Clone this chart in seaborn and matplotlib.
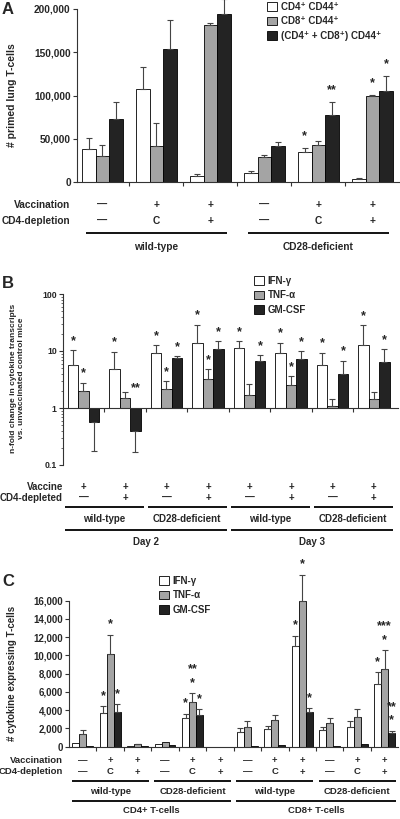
import numpy as np
import pandas as pd
import matplotlib
matplotlib.use("Agg")
import matplotlib.pyplot as plt
import matplotlib.transforms as mtransforms
import seaborn as sns

W, H = 400, 819

# --- Panel A: primed lung T-cells ---
A_VACC = ["—", "+", "+", "—", "+", "+"]
A_DEPL = ["—", "C", "+", "—", "C", "+"]
A_STRAINS = ["wild-type", "CD28-deficient"]
A_SERIES = ["CD4⁺ CD44⁺", "CD8⁺ CD44⁺", "(CD4⁺ + CD8⁺) CD44⁺"]
A_CD4 = [38500, 107300, 7300, 11200, 34600, 3800]
A_CD4_HI = [50800, 133500, 10000, 12700, 39600, 4600]
A_CD8 = [30400, 41900, 181500, 29200, 43000, 99600]
A_CD8_HI = [42700, 68000, 184000, 31500, 47700, 100400]
A_TOT = [72700, 153500, 193800, 41900, 77700, 105000]
A_TOT_HI = [92700, 187000, 212000, 46900, 93000, 122700]
A_CD4_STARS = ["", "", "", "", "*", ""]
A_CD8_STARS = ["", "", "", "", "", "*"]
A_TOT_STARS = ["", "", "", "", "**", "*"]

# --- Panel B: n-fold change in cytokine transcripts ---
B_VACC = ["+"] * 8
B_DEPL = ["—", "+"] * 4
B_STRAINS = ["wild-type", "CD28-deficient"] * 2
B_DAYS = ["Day 2", "Day 3"]
B_SERIES = ["IFN-γ", "TNF-α", "GM-CSF"]
B_IFN = [5.7, 4.8, 9.1, 14.0, 11.4, 9.1, 5.7, 12.6]
B_IFN_HI = [10.3, 9.8, 12.6, 29.0, 14.9, 14.0, 9.35, 28.4]
B_TNF = [2.0, 1.5, 2.14, 3.25, 1.66, 2.55, 1.07, 1.45]
B_TNF_HI = [2.8, 1.92, 3.0, 4.85, 2.6, 3.66, 1.44, 1.9]
B_GM = [0.56, 0.39, 7.6, 10.8, 6.7, 7.35, 3.9, 6.5]
B_GM_HI = [0.177, 0.17, 8.2, 14.9, 8.4, 10.0, 6.8, 10.7]
B_IFN_STARS = ["*"] * 8
B_TNF_STARS = ["*", "", "*", "*", "", "*", "", ""]
B_GM_STARS = ["", "**", "*", "*", "*", "*", "*", "*"]

# --- Panel C: cytokine expressing T-cells ---
C_VACC = ["—", "+", "+"] * 4
C_DEPL = ["—", "C", "+"] * 4
C_STRAINS = ["wild-type", "CD28-deficient"] * 2
C_CELLS = ["CD4+ T-cells", "CD8+ T-cells"]
C_IFN = [365, 3690, 30, 255, 3100, 20, 1570, 1900, 10990, 1790, 2120, 6830]
C_IFN_HI = [365, 4420, 30, 255, 3580, 20, 2010, 2230, 12150, 2190, 2810, 8140]
C_TNF = [1350, 10150, 290, 510, 4890, 20, 2150, 2920, 15950, 2555, 3285, 8500]
C_TNF_HI = [1790, 12260, 330, 510, 5840, 20, 2770, 3430, 18870, 3175, 4090, 10550]
C_GM = [120, 3800, 70, 220, 3470, 20, 110, 180, 3760, 110, 255, 1460]
C_GM_HI = [120, 4640, 70, 220, 4120, 20, 110, 180, 4200, 110, 255, 1715]
C_IFN_STARS = ["", "*", "", "", "*", "", "", "", "*", "", "", "*"]
C_TNF_STARS = ["", "*", "", "", "*\n**", "", "", "", "*", "", "", "*\n***"]
C_GM_STARS = ["", "*", "", "", "*", "", "", "", "*", "", "", "*\n**"]

COLORS = ["white", "#a4a4a4", "#232323"]
FONT = ["Liberation Sans", "DejaVu Sans"]

sns.set_style("white")
plt.rcParams["font.family"] = FONT
plt.rcParams["font.weight"] = "bold"
plt.rcParams["axes.linewidth"] = 0.8

fig = plt.figure(figsize=(W / 100, H / 100), dpi=100)


def fy(py):
    return 1 - py / H


def add_panel(left, top, right, bottom):
    return fig.add_axes([left / W, 1 - bottom / H, (right - left) / W, (bottom - top) / H])


def draw_bars(ax, series, values, his, stars, star_pts):
    n = len(values[0])
    df = pd.DataFrame({
        "group": np.tile(np.arange(n), len(series)),
        "series": np.repeat(series, n),
        "value": np.concatenate(values),
    })
    sns.barplot(data=df, x="group", y="value", hue="series", hue_order=series,
                palette=COLORS, saturation=1, width=0.76, errorbar=None,
                edgecolor="black", linewidth=0.6, ax=ax)
    for cont, vals, hi, st in zip(ax.containers, values, his, stars):
        xs = np.array([b.get_x() + b.get_width() / 2 for b in cont])
        vals = np.asarray(vals, float)
        hi = np.asarray(hi, float)
        up = np.clip(hi - vals, 0, None)
        dn = np.clip(vals - hi, 0, None)
        show = (up + dn) > 0
        ax.errorbar(xs[show], vals[show], yerr=[dn[show], up[show]], fmt="none",
                    ecolor="#444444", elinewidth=0.8, capsize=2.2, capthick=0.8,
                    clip_on=False, zorder=1)
        for x, v, h, s in zip(xs, vals, hi, st):
            if not s:
                continue
            # stars above the error bar; for bars below the baseline, above the baseline
            base, off = (max(v, h), star_pts) if v >= 0 else (0, star_pts * 2.2)
            for k, part in enumerate(s.split("\n")):
                ax.annotate(part, (x, base), xytext=(0, off + k * 10), textcoords="offset points",
                            ha="center", va="center", fontsize=9, annotation_clip=False)


def style_axes(ax, n, xlim):
    ax.set_xlim(*xlim)
    ax.set_xticks(np.arange(n - 1) + 0.5)
    ax.set_xticklabels([])
    ax.tick_params(axis="x", bottom=True, direction="out", length=3, width=0.8, color="#333333")
    ax.tick_params(axis="y", left=True, direction="out", length=3, width=0.8, color="#333333", pad=1.5)
    for s in ["top", "right"]:
        ax.spines[s].set_visible(False)
    for s in ["left", "bottom"]:
        ax.spines[s].set_color("#333333")
    ax.set_xlabel("")
    ax.set_ylabel("")
    ax.get_legend().remove()


def legend(ax, left_px, top_px, fs=7):
    handles, labels = ax.get_legend_handles_labels()
    fig.legend(handles, labels, loc="upper left", bbox_to_anchor=(left_px / W, fy(top_px)),
               frameon=False, fontsize=fs, handlelength=1.0, handleheight=1.0,
               handletextpad=0.4, labelspacing=0.45, borderaxespad=0, borderpad=0)


def row_labels(ax, rows, names, pys, right_px, fs):
    tr = mtransforms.blended_transform_factory(ax.transData, fig.transFigure)
    for vals, name, py in zip(rows, names, pys):
        fig.text(right_px / W, fy(py), name, ha="right", va="center", fontsize=fs)
        for i, v in enumerate(vals):
            ax.text(i, fy(py), v, transform=tr, ha="center", va="center", fontsize=fs)


def brackets(ax, names, size, pad, py_line, py_text, fs):
    tr = mtransforms.blended_transform_factory(ax.transData, fig.transFigure)
    for k, name in enumerate(names):
        x0, x1 = k * size - pad, (k + 1) * size - 1 + pad
        ax.plot([x0, x1], [fy(py_line)] * 2, transform=tr, color="black", lw=1.3,
                clip_on=False, solid_capstyle="butt")
        ax.text((x0 + x1) / 2, fy(py_text), name, transform=tr, ha="center", va="center", fontsize=fs)


# ---------------- Panel A ----------------
axA = add_panel(77, 9, 400, 182.3)
draw_bars(axA, A_SERIES, [A_CD4, A_CD8, A_TOT], [A_CD4_HI, A_CD8_HI, A_TOT_HI],
          [A_CD4_STARS, A_CD8_STARS, A_TOT_STARS], 8.5)
legend(axA, 267, 2, fs=7)
style_axes(axA, 6, (-0.47, 5.51))
axA.set_ylim(0, 200000)
axA.set_yticks(np.arange(0, 200001, 50000))
axA.set_yticklabels([f"{v:,}" for v in range(0, 200001, 50000)], fontsize=7.3)
axA.spines["left"].set_bounds(0, 200000)
row_labels(axA, [A_VACC, A_DEPL], ["Vaccination", "CD4-depletion"], [205, 220.7], 70, 7.3)
brackets(axA, A_STRAINS, 3, 0.3, 233.3, 247, 7.3)
fig.text(12 / W, fy(95), "# primed lung T-cells", rotation=90, ha="center", va="center", fontsize=7.5)
fig.text(2 / W, fy(10), "A", ha="left", va="center", fontsize=12)

# ---------------- Panel B ----------------
axB = add_panel(63, 294, 398, 465)
logv = [np.log10(v) for v in (B_IFN, B_TNF, B_GM)]
logh = [np.log10(v) for v in (B_IFN_HI, B_TNF_HI, B_GM_HI)]
draw_bars(axB, B_SERIES, logv, logh, [B_IFN_STARS, B_TNF_STARS, B_GM_STARS], 6.5)
legend(axB, 254, 276, fs=7)
style_axes(axB, 8, (-0.494, 7.58))
axB.set_ylim(-1, 2)
axB.set_yticks([-1, 0, 1, 2])
axB.set_yticklabels(["0.1", "1", "10", "100"], fontsize=6.3)
axB.set_yticks([np.log10(m * 10.0 ** e) for e in (-1, 0, 1) for m in range(2, 10)], minor=True)
axB.tick_params(axis="y", which="minor", left=True, length=1.8, width=0.5, color="#333333")
axB.spines["left"].set_bounds(-1, 2)
axB.spines["bottom"].set_position(("data", 0))
row_labels(axB, [B_VACC, B_DEPL], ["Vaccine", "CD4-depleted"], [487, 498], 63, 7)
brackets(axB, B_STRAINS, 2, 0.45, 507, 519, 7)
brackets(axB, B_DAYS, 4, 0.45, 530, 542, 7)
fig.text(18 / W, fy(378), "n-fold change in cytokine transcripts\nvs. unvaccinated control mice",
         rotation=90, ha="center", va="center", fontsize=6, linespacing=1.2)
fig.text(2 / W, fy(283), "B", ha="left", va="center", fontsize=12)

# ---------------- Panel C ----------------
axC = add_panel(69, 600.7, 398, 746.7)
draw_bars(axC, B_SERIES, [C_IFN, C_TNF, C_GM], [C_IFN_HI, C_TNF_HI, C_GM_HI],
          [C_IFN_STARS, C_TNF_STARS, C_GM_STARS], 7.5)
legend(axC, 159, 576, fs=7)
style_axes(axC, 12, (-0.5, 11.49))
axC.set_ylim(0, 16000)
axC.set_yticks(np.arange(0, 16001, 2000))
axC.set_yticklabels([f"{v:,}" for v in range(0, 16001, 2000)], fontsize=7)
axC.spines["left"].set_bounds(0, 16000)
row_labels(axC, [C_VACC, C_DEPL], ["Vaccination", "CD4-depletion"], [760.7, 772], 63, 6.8)
brackets(axC, C_STRAINS, 3, 0.4, 781, 791.7, 6.8)
brackets(axC, C_CELLS, 6, 0.4, 800.7, 810.7, 6.8)
fig.text(12 / W, fy(673), "# cytokine expressing T-cells", rotation=90, ha="center", va="center", fontsize=7)
fig.text(2 / W, fy(582), "C", ha="left", va="center", fontsize=12)

fig.savefig("out.png", dpi=100)
